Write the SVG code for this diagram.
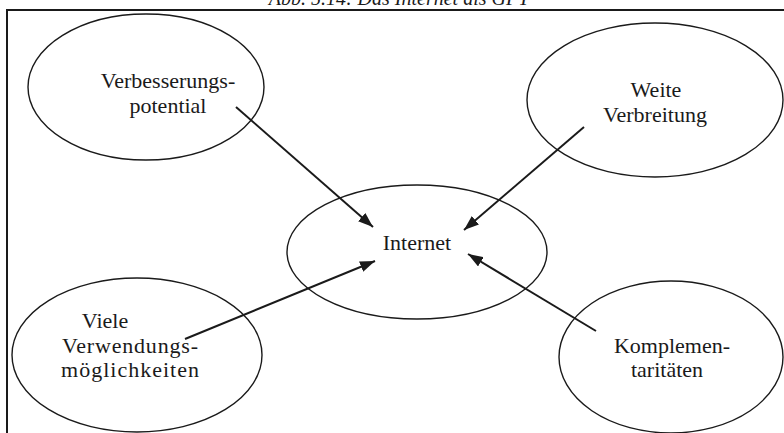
<svg xmlns="http://www.w3.org/2000/svg" width="784" height="433" viewBox="0 0 784 433">
<style>
.frame{fill:none;stroke:#1a1a1a;stroke-width:2}
.node ellipse{fill:none;stroke:#1a1a1a;stroke-width:1.4}
.lbl{font-family:"Liberation Serif","Times New Roman",serif;font-size:22px;fill:#1a1a1a;text-anchor:middle}
.title{font-family:"Liberation Serif","Times New Roman",serif;font-size:20px;font-style:italic;fill:#1a1a1a;text-anchor:middle}
.conn line{stroke:#1a1a1a;stroke-width:2;marker-end:url(#ah)}
</style>
<defs>
<marker id="ah" viewBox="0 0 15 11" refX="15" refY="5.5" markerWidth="15" markerHeight="11" markerUnits="userSpaceOnUse" orient="auto">
<path d="M0,0 L15,5.5 L0,11 Z" fill="#1a1a1a"/>
</marker>
</defs>
<rect width="784" height="433" fill="#ffffff"/>
<text class="title" x="399" y="5">Abb. 5.14: Das Internet als GPT</text>
<path class="frame" d="M7,433 V10 H784"/>
<g id="verbesserung" class="node">
<ellipse cx="146" cy="87" rx="118" ry="73"/>
<text class="lbl" x="168" y="88">Verbesserungs-</text>
<text class="lbl" x="168" y="113">potential</text>
</g>
<g id="weite" class="node">
<ellipse cx="655" cy="100" rx="128" ry="77"/>
<text class="lbl" x="656" y="97">Weite</text>
<text class="lbl" x="655" y="122">Verbreitung</text>
</g>
<g id="internet" class="node">
<ellipse cx="417" cy="252" rx="130" ry="67"/>
<text class="lbl" x="417" y="250">Internet</text>
</g>
<g id="viele" class="node">
<ellipse cx="137" cy="355" rx="125" ry="77"/>
<text class="lbl" x="105" y="328">Viele</text>
<text class="lbl" x="130" y="353" textLength="136" lengthAdjust="spacing">Verwendungs-</text>
<text class="lbl" x="130" y="377" textLength="138" lengthAdjust="spacing">möglichkeiten</text>
</g>
<g id="komplement" class="node">
<ellipse cx="671" cy="357" rx="112" ry="76"/>
<text class="lbl" x="672" y="353">Komplemen-</text>
<text class="lbl" x="667" y="377">taritäten</text>
</g>
<g id="connectors" class="conn">
<line x1="236" y1="107" x2="373" y2="227"/>
<line x1="584" y1="127" x2="464" y2="230"/>
<line x1="185" y1="339" x2="375" y2="261"/>
<line x1="596" y1="331" x2="468" y2="254"/>
</g>
</svg>
